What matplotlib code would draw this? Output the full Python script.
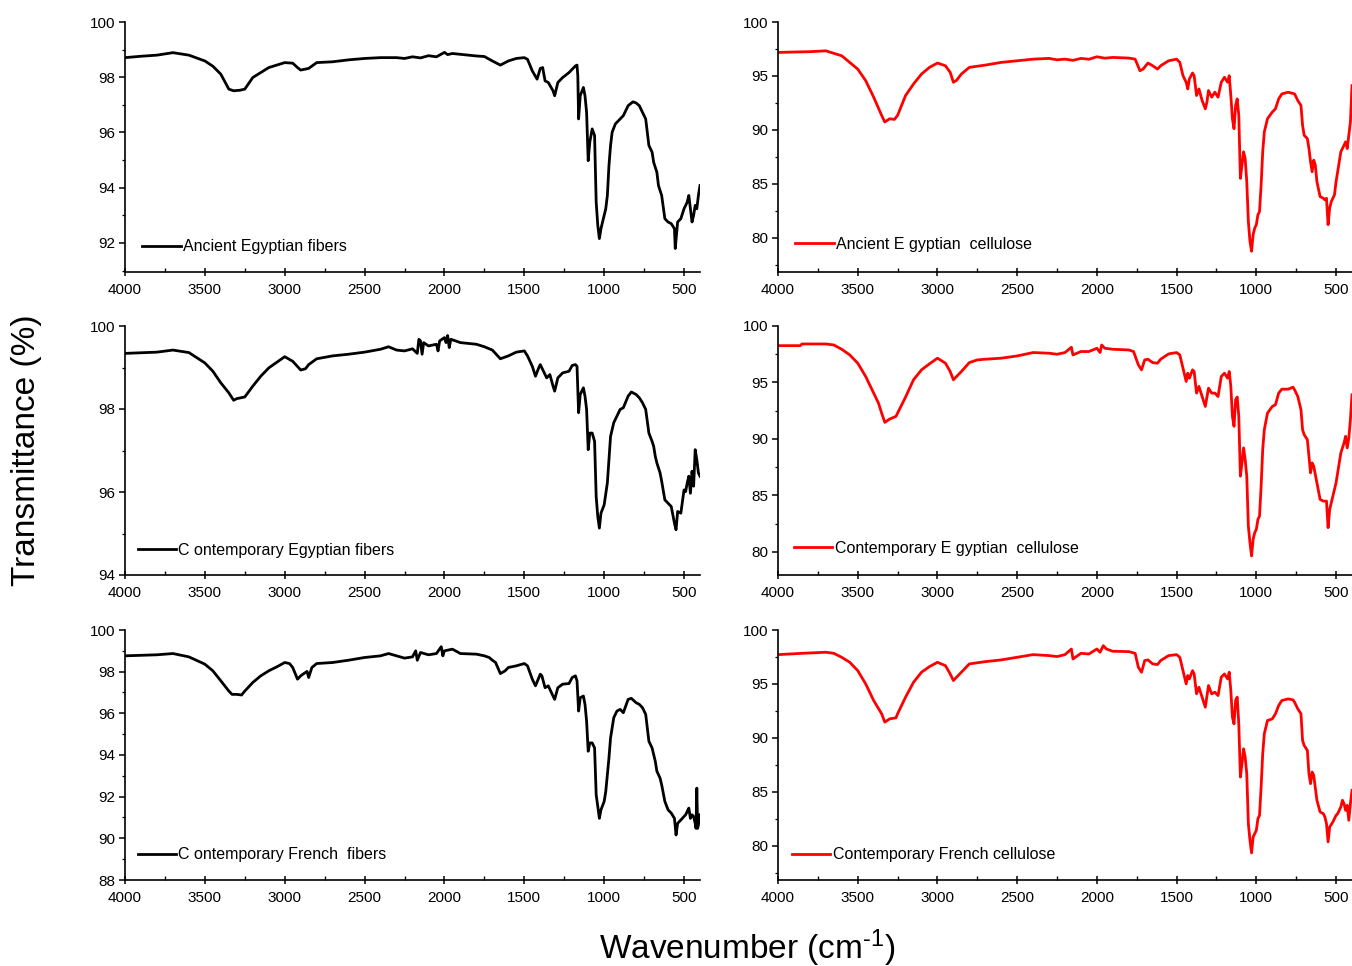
import matplotlib
matplotlib.use("Agg")
import matplotlib.pyplot as plt
from matplotlib.ticker import MultipleLocator

plt.rcParams['font.family'] = ['Liberation Sans', 'DejaVu Sans']
plt.rcParams['mathtext.fontset'] = 'custom'
plt.rcParams['mathtext.rm'] = 'Liberation Sans'
plt.rcParams['mathtext.it'] = 'Liberation Sans'
plt.rcParams['mathtext.default'] = 'regular'

# ---------------- data ----------------
labels = ["Ancient Egyptian fibers", "Ancient E gyptian  cellulose",
          "C ontemporary Egyptian fibers", "Contemporary E gyptian  cellulose",
          "C ontemporary French  fibers", "Contemporary French cellulose"]

# Ancient Egyptian fibers
wn_aef = [4000, 3900, 3800, 3700, 3600, 3500, 3450, 3400, 3350, 3320,
          3280, 3250, 3200, 3100, 3000, 2950, 2920, 2900, 2850, 2800,
          2700, 2600, 2500, 2400, 2300, 2250, 2200, 2150, 2100, 2050,
          2000, 1980, 1950, 1900, 1800, 1750, 1700, 1650, 1600, 1550,
          1500, 1480, 1450, 1420, 1400, 1385, 1370, 1350, 1320, 1310,
          1290, 1260, 1220, 1200, 1180, 1170, 1165, 1160, 1150, 1130,
          1120, 1110, 1100, 1090, 1075, 1060, 1050, 1040, 1030, 1020,
          1010, 1000, 990, 980, 970, 960, 950, 930, 900, 880,
          850, 820, 800, 780, 760, 740, 720, 700, 690, 670,
          660, 640, 620, 600, 580, 560, 555, 540, 520, 500,
          480, 470, 460, 450, 440, 430, 420, 410, 400]
t_aef = [98.71, 98.76, 98.80, 98.89, 98.80, 98.59, 98.40, 98.11, 97.57, 97.51,
         97.53, 97.57, 97.99, 98.35, 98.53, 98.51, 98.35, 98.26, 98.32, 98.53,
         98.56, 98.63, 98.68, 98.71, 98.71, 98.68, 98.74, 98.70, 98.78, 98.74,
         98.90, 98.82, 98.86, 98.83, 98.77, 98.75, 98.59, 98.44, 98.59, 98.68,
         98.71, 98.65, 98.23, 97.93, 98.32, 98.35, 97.87, 97.81, 97.51, 97.33,
         97.81, 97.99, 98.17, 98.29, 98.41, 98.44, 98.05, 96.49, 97.33, 97.63,
         97.33, 96.73, 94.98, 95.65, 96.13, 95.89, 93.48, 92.64, 92.16, 92.52,
         92.76, 93.00, 93.24, 93.72, 94.80, 95.53, 96.01, 96.31, 96.49, 96.61,
         96.97, 97.11, 97.07, 96.97, 96.73, 96.49, 95.53, 95.29, 94.92, 94.56,
         94.08, 93.72, 92.88, 92.76, 92.70, 92.52, 91.80, 92.76, 92.88, 93.24,
         93.48, 93.72, 93.24, 92.76, 93.00, 93.36, 93.24, 93.72, 94.08]

# Ancient Egyptian cellulose
wn_aec = [4000, 3900, 3800, 3700, 3600, 3500, 3450, 3400, 3350, 3330,
          3300, 3270, 3250, 3200, 3150, 3100, 3050, 3000, 2950, 2920,
          2900, 2880, 2850, 2800, 2700, 2600, 2500, 2400, 2300, 2250,
          2200, 2150, 2100, 2050, 2000, 1950, 1900, 1800, 1760, 1730,
          1710, 1680, 1650, 1620, 1600, 1550, 1500, 1480, 1460, 1440,
          1430, 1420, 1400, 1390, 1375, 1360, 1340, 1320, 1310, 1300,
          1280, 1260, 1240, 1220, 1200, 1180, 1170, 1160, 1150, 1140,
          1130, 1120, 1110, 1100, 1090, 1080, 1070, 1060, 1050, 1040,
          1030, 1020, 1010, 1000, 990, 980, 970, 960, 950, 930,
          900, 880, 860, 840, 800, 760, 740, 720, 710, 700,
          680, 670, 660, 650, 640, 630, 620, 600, 580, 570,
          560, 550, 540, 530, 520, 510, 500, 490, 480, 470,
          460, 450, 440, 430, 420, 410, 400]
t_aec = [97.18, 97.22, 97.25, 97.33, 96.87, 95.64, 94.57, 93.04, 91.35, 90.74,
         91.04, 90.98, 91.35, 93.19, 94.26, 95.18, 95.80, 96.20, 95.95, 95.34,
         94.42, 94.60, 95.18, 95.80, 96.01, 96.26, 96.41, 96.56, 96.63, 96.50,
         96.56, 96.45, 96.63, 96.55, 96.78, 96.65, 96.72, 96.66, 96.56, 95.49,
         95.64, 96.20, 95.95, 95.64, 95.95, 96.41, 96.56, 96.26, 95.03, 94.42,
         93.80, 94.72, 95.28, 95.03, 93.19, 93.80, 92.73, 91.96, 92.58, 93.65,
         93.04, 93.50, 93.04, 94.42, 94.88, 94.42, 95.03, 93.19, 91.04, 90.12,
         92.27, 92.88, 91.35, 85.52, 86.75, 87.98, 87.36, 85.21, 81.53, 79.69,
         78.77, 80.31, 80.92, 81.23, 82.15, 82.45, 84.91, 87.98, 89.82, 91.04,
         91.66, 91.96, 92.88, 93.34, 93.50, 93.34, 92.73, 92.27, 90.43, 89.51,
         89.20, 88.28, 87.06, 86.13, 87.21, 86.75, 85.21, 83.83, 83.68, 83.53,
         83.68, 81.23, 82.76, 83.37, 83.68, 83.99, 85.21, 86.13, 87.06, 87.98,
         88.28, 88.59, 88.90, 88.28, 89.51, 90.74, 94.11]

# Contemporary Egyptian fibers
wn_cef = [4000, 3800, 3700, 3600, 3500, 3450, 3400, 3350, 3320, 3300,
          3250, 3200, 3150, 3100, 3000, 2950, 2900, 2870, 2850, 2800,
          2700, 2600, 2500, 2400, 2350, 2300, 2250, 2200, 2170, 2160,
          2150, 2140, 2130, 2100, 2050, 2040, 2030, 2000, 1990, 1980,
          1970, 1960, 1900, 1800, 1750, 1700, 1650, 1600, 1550, 1500,
          1480, 1450, 1430, 1410, 1400, 1380, 1360, 1340, 1320, 1310,
          1290, 1260, 1220, 1200, 1180, 1170, 1160, 1150, 1130, 1120,
          1110, 1100, 1090, 1075, 1060, 1050, 1040, 1030, 1020, 1000,
          980, 970, 960, 940, 920, 900, 880, 850, 830, 800,
          780, 760, 740, 720, 700, 690, 680, 670, 650, 640,
          620, 600, 580, 560, 550, 540, 520, 500, 490, 480,
          470, 460, 450, 440, 430, 420, 410, 400]
t_cef = [99.34, 99.37, 99.42, 99.36, 99.11, 98.91, 98.63, 98.39, 98.21, 98.25,
         98.29, 98.55, 98.79, 98.99, 99.26, 99.15, 98.94, 98.97, 99.07, 99.21,
         99.28, 99.32, 99.37, 99.44, 99.50, 99.42, 99.40, 99.45, 99.34, 99.68,
         99.64, 99.32, 99.60, 99.52, 99.56, 99.40, 99.64, 99.72, 99.60, 99.77,
         99.48, 99.68, 99.60, 99.56, 99.50, 99.42, 99.21, 99.28, 99.37, 99.40,
         99.28, 99.03, 98.79, 98.99, 99.07, 98.91, 98.75, 98.83, 98.55, 98.43,
         98.75, 98.87, 98.91, 99.05, 99.07, 99.03, 97.91, 98.35, 98.51, 98.31,
         97.99, 97.02, 97.42, 97.42, 97.22, 95.89, 95.41, 95.13, 95.49, 95.69,
         96.22, 96.78, 97.34, 97.67, 97.83, 97.99, 98.03, 98.31, 98.41, 98.35,
         98.27, 98.15, 97.99, 97.42, 97.22, 97.10, 96.86, 96.70, 96.46, 96.26,
         95.81, 95.73, 95.65, 95.25, 95.09, 95.53, 95.49, 96.05, 96.01, 96.22,
         96.38, 95.97, 96.50, 96.14, 97.02, 96.78, 96.46, 96.38]

# Contemporary Egyptian cellulose
wn_cec = [4000, 3860, 3850, 3700, 3650, 3600, 3550, 3500, 3450, 3400,
          3370, 3350, 3330, 3300, 3260, 3250, 3200, 3150, 3100, 3050,
          3000, 2950, 2920, 2900, 2880, 2850, 2800, 2750, 2700, 2600,
          2500, 2400, 2300, 2250, 2200, 2160, 2150, 2100, 2050, 2000,
          1980, 1970, 1950, 1900, 1800, 1770, 1740, 1720, 1700, 1680,
          1650, 1620, 1600, 1550, 1500, 1480, 1460, 1440, 1430, 1420,
          1400, 1390, 1375, 1360, 1340, 1320, 1300, 1280, 1260, 1240,
          1220, 1200, 1180, 1170, 1160, 1150, 1140, 1130, 1120, 1110,
          1100, 1090, 1080, 1070, 1060, 1050, 1040, 1030, 1020, 1010,
          1000, 990, 980, 970, 960, 950, 930, 900, 880, 860,
          840, 800, 770, 760, 740, 720, 710, 700, 680, 670,
          660, 650, 640, 620, 600, 580, 560, 550, 540, 520,
          500, 490, 480, 470, 460, 450, 440, 430, 420, 410,
          400]
t_cec = [98.26, 98.26, 98.41, 98.41, 98.32, 97.94, 97.44, 96.71, 95.53, 94.06,
         93.18, 92.29, 91.47, 91.76, 92.00, 92.29, 93.71, 95.24, 96.12, 96.65,
         97.15, 96.71, 95.97, 95.24, 95.53, 95.97, 96.76, 97.00, 97.06, 97.15,
         97.35, 97.65, 97.59, 97.50, 97.65, 98.12, 97.44, 97.74, 97.74, 98.03,
         97.65, 98.32, 98.03, 97.94, 97.88, 97.74, 96.56, 96.12, 97.00, 97.06,
         96.76, 96.71, 97.06, 97.53, 97.65, 97.44, 96.26, 95.09, 95.82, 95.38,
         96.12, 95.97, 94.06, 94.65, 93.76, 92.88, 94.50, 94.06, 94.06, 93.76,
         95.53, 95.82, 95.38, 95.97, 94.65, 92.00, 91.12, 93.47, 93.71, 92.00,
         86.71, 87.88, 89.21, 88.18, 86.71, 82.29, 80.82, 79.65, 81.12, 81.71,
         82.00, 82.88, 83.18, 85.82, 89.06, 90.82, 92.29, 92.88, 93.03, 94.06,
         94.41, 94.41, 94.59, 94.35, 93.76, 92.59, 90.82, 90.38, 89.94, 88.47,
         87.00, 87.88, 87.59, 86.12, 84.65, 84.50, 84.50, 82.15, 83.76, 84.94,
         86.12, 87.00, 87.88, 88.76, 89.21, 89.65, 90.24, 89.21, 90.09, 91.71,
         93.91]

# Contemporary French fibers
wn_cff = [4000, 3800, 3700, 3600, 3500, 3450, 3400, 3350, 3330, 3300,
          3270, 3250, 3200, 3150, 3100, 3050, 3000, 2970, 2950, 2920,
          2900, 2880, 2860, 2850, 2830, 2800, 2700, 2600, 2500, 2400,
          2350, 2300, 2250, 2200, 2180, 2170, 2150, 2100, 2050, 2020,
          2010, 2000, 1950, 1900, 1800, 1750, 1720, 1700, 1680, 1650,
          1620, 1600, 1550, 1500, 1480, 1450, 1430, 1400, 1390, 1370,
          1350, 1330, 1310, 1290, 1260, 1220, 1200, 1180, 1170, 1160,
          1150, 1130, 1120, 1110, 1100, 1090, 1075, 1060, 1050, 1040,
          1030, 1020, 1000, 990, 970, 960, 940, 920, 900, 880,
          850, 830, 800, 780, 760, 740, 720, 700, 680, 670,
          650, 640, 620, 600, 580, 560, 550, 540, 520, 500,
          490, 480, 470, 460, 450, 440, 430, 425, 420, 415,
          410, 400]
t_cff = [98.76, 98.81, 98.87, 98.71, 98.36, 98.04, 97.56, 97.07, 96.91, 96.91,
         96.88, 97.07, 97.48, 97.80, 98.04, 98.23, 98.44, 98.39, 98.20, 97.64,
         97.80, 97.91, 98.01, 97.72, 98.20, 98.39, 98.44, 98.55, 98.68, 98.76,
         98.87, 98.76, 98.65, 98.71, 99.00, 98.55, 98.92, 98.81, 98.87, 99.20,
         98.76, 99.00, 99.08, 98.87, 98.84, 98.76, 98.68, 98.55, 98.44, 97.91,
         98.04, 98.20, 98.28, 98.39, 98.28, 97.64, 97.32, 97.88, 97.80, 97.23,
         97.32, 96.99, 96.67, 97.23, 97.40, 97.43, 97.72, 97.80, 97.56, 96.11,
         96.75, 96.83, 96.43, 95.63, 94.18, 94.58, 94.58, 94.34, 92.09, 91.53,
         90.96, 91.37, 91.77, 92.25, 93.86, 94.82, 95.79, 96.11, 96.19, 96.03,
         96.67, 96.72, 96.51, 96.43, 96.27, 95.95, 94.66, 94.34, 93.70, 93.22,
         92.89, 92.57, 91.77, 91.37, 91.21, 90.96, 90.16, 90.72, 90.88, 91.05,
         91.13, 91.29, 91.45, 90.96, 91.13, 91.05, 90.72, 90.48, 92.41, 90.48,
         90.64, 91.13]

# Contemporary French cellulose
wn_cfc = [4000, 3850, 3700, 3650, 3600, 3550, 3500, 3450, 3400, 3350,
          3330, 3300, 3260, 3250, 3200, 3150, 3100, 3050, 3000, 2950,
          2920, 2900, 2880, 2850, 2800, 2700, 2600, 2500, 2400, 2300,
          2250, 2200, 2160, 2150, 2100, 2050, 2000, 1980, 1960, 1940,
          1900, 1800, 1760, 1740, 1720, 1700, 1680, 1650, 1620, 1600,
          1550, 1500, 1480, 1460, 1440, 1430, 1420, 1400, 1390, 1375,
          1360, 1340, 1320, 1300, 1280, 1260, 1240, 1220, 1200, 1180,
          1170, 1160, 1150, 1140, 1130, 1120, 1110, 1100, 1090, 1080,
          1070, 1060, 1050, 1040, 1030, 1020, 1010, 1000, 990, 980,
          970, 960, 950, 930, 900, 880, 860, 840, 800, 770,
          760, 740, 720, 710, 700, 680, 670, 660, 650, 640,
          620, 600, 580, 570, 560, 550, 540, 520, 500, 490,
          480, 470, 460, 450, 440, 430, 420, 410, 400]
t_cfc = [97.72, 97.84, 97.94, 97.84, 97.47, 97.01, 96.24, 95.01, 93.47, 92.24,
         91.47, 91.77, 91.87, 92.24, 93.78, 95.16, 96.09, 96.61, 97.01, 96.70,
         95.93, 95.32, 95.63, 96.09, 96.86, 97.07, 97.23, 97.47, 97.72, 97.63,
         97.54, 97.72, 98.24, 97.32, 97.84, 97.78, 98.24, 97.94, 98.55, 98.24,
         98.03, 98.00, 97.84, 96.55, 96.09, 97.17, 97.23, 96.86, 96.80, 97.17,
         97.63, 97.72, 97.47, 96.24, 95.01, 95.78, 95.47, 96.24, 95.93, 94.09,
         94.70, 93.78, 92.85, 94.86, 94.09, 94.24, 93.93, 95.63, 95.93, 95.47,
         96.09, 94.39, 91.93, 91.31, 93.47, 93.78, 91.31, 86.38, 87.62, 89.00,
         88.23, 86.69, 82.07, 80.53, 79.36, 80.84, 81.15, 81.45, 82.53, 82.84,
         85.46, 88.54, 90.39, 91.62, 91.77, 92.24, 93.01, 93.47, 93.62, 93.53,
         93.31, 92.70, 92.24, 89.77, 89.31, 88.85, 86.69, 85.77, 86.85, 86.54,
         84.23, 83.15, 82.99, 82.69, 82.07, 80.38, 81.76, 82.22, 82.84, 82.99,
         83.30, 83.61, 84.23, 83.92, 83.30, 83.76, 82.38, 83.92, 85.15]

series = [(wn_aef, t_aef), (wn_aec, t_aec), (wn_cef, t_cef),
          (wn_cec, t_cec), (wn_cff, t_cff), (wn_cfc, t_cfc)]
colors = ['black', 'red', 'black', 'red', 'black', 'red']
ylims = [(90.95, 100), (76.85, 100), (94, 100), (77.96, 100), (88, 100), (76.85, 100)]
ymajor = [2, 5, 2, 5, 2, 5]
xticks = [4000, 3500, 3000, 2500, 2000, 1500, 1000, 500]

# ---------------- layout ----------------
W, H = 1352, 966
fig = plt.figure(figsize=(W / 100, H / 100), dpi=100)

col_x = [(125, 700), (778, 1352)]
row_y = [(22, 272), (326, 575), (630, 880)]
leg_pos = [(0.030, 0.100), (0.030, 0.112), (0.022, 0.100),
           (0.028, 0.108), (0.022, 0.100), (0.024, 0.100)]

for i in range(6):
    r, c = divmod(i, 2)
    x0, x1 = col_x[c]
    y0, y1 = row_y[r]
    ax = fig.add_axes([x0 / W, 1 - y1 / H, (x1 - x0) / W, (y1 - y0) / H])
    wn, t = series[i]
    ax.plot(wn, t, color=colors[i], lw=2.0, label=labels[i])
    ax.set_xlim(4000, 400)
    ax.set_ylim(*ylims[i])
    ax.set_xticks(xticks)
    ax.xaxis.set_minor_locator(MultipleLocator(250))
    ax.yaxis.set_major_locator(MultipleLocator(ymajor[i]))
    ax.yaxis.set_minor_locator(MultipleLocator(ymajor[i] / 2))
    for s in ['top', 'right']:
        ax.spines[s].set_visible(False)
    for s in ['left', 'bottom']:
        ax.spines[s].set_linewidth(1.2)
    ax.tick_params(axis='x', which='major', direction='inout', length=6, width=1.1,
                   labelsize=11, pad=5)
    ax.tick_params(axis='x', which='minor', direction='in', length=3, width=1.0)
    ax.tick_params(axis='y', which='major', direction='out', length=4, width=1.1,
                   labelsize=11, pad=3)
    ax.tick_params(axis='y', which='minor', direction='out', length=2, width=0.9)
    ax.patch.set_alpha(0)
    ax.legend(loc='center left', bbox_to_anchor=leg_pos[i], frameon=False,
              borderaxespad=0, borderpad=0, handlelength=2.4, handletextpad=0.15,
              fontsize=11.5)

fig.text(27 / W, 1 - 450 / H, 'Transmittance (%)', rotation=90,
         ha='center', va='center', fontsize=24)
fig.text(747 / W, 1 - 948 / H, r'Wavenumber (cm$^{\text{-1}}$)',
         ha='center', va='center', fontsize=24)

fig.savefig('out.png', dpi=100)
